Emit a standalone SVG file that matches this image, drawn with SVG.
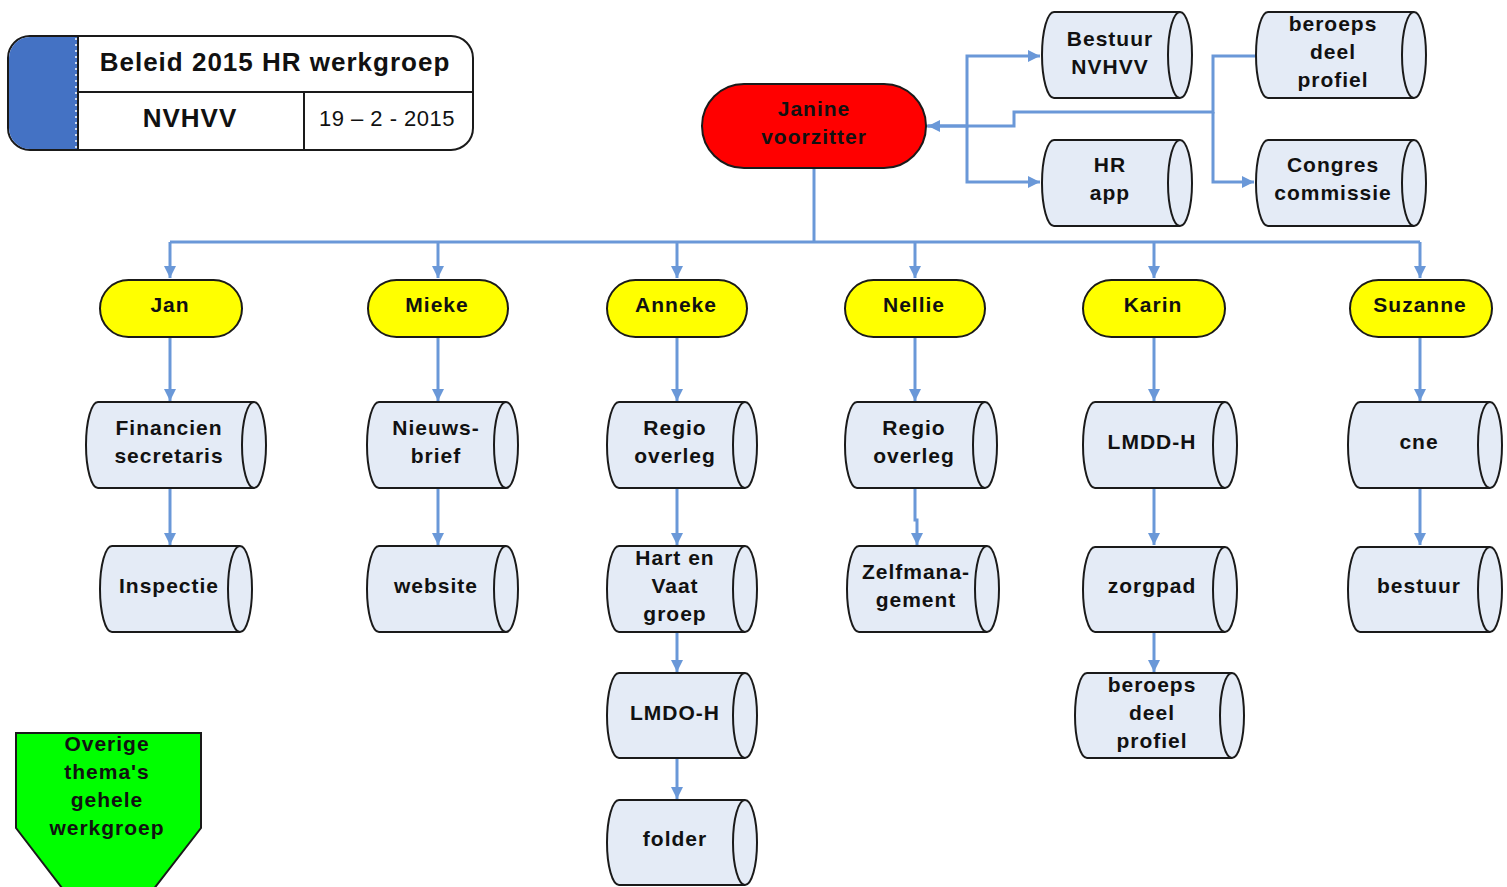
<svg xmlns="http://www.w3.org/2000/svg" width="1507" height="887" viewBox="0 0 1507 887">
<style>
.cyl{fill:#e4ebf6;stroke:#1a1a1a;stroke-width:2}
.pill{fill:#ffff00;stroke:#1a1a1a;stroke-width:2}
.t{font-family:"Liberation Sans",Arial,sans-serif;font-weight:bold;font-size:21px;letter-spacing:1px;fill:#111;text-anchor:middle}
.c{fill:none;stroke:#6a98d8;stroke-width:3}
.hdr{font-family:"Liberation Sans",Arial,sans-serif;font-size:26px;font-weight:bold;letter-spacing:1px;fill:#111;text-anchor:middle}
</style>
<defs>
<marker id="ah" markerUnits="userSpaceOnUse" markerWidth="12" markerHeight="12" viewBox="0 0 10 10" refX="10" refY="5" orient="auto">
<path d="M0,0 L10,5 L0,10 z" fill="#6a98d8"/>
</marker>
</defs>

<g id="header">
<rect x="8" y="36" width="465" height="114" rx="22" fill="#fff" stroke="#1a1a1a" stroke-width="2"/>
<path d="M77,37 H30 A21,21 0 0 0 9,58 V128 A21,21 0 0 0 30,149 H77 Z" fill="#4472c4"/>
<line x1="76" y1="38" x2="76" y2="148" stroke="#fff" stroke-width="1.5" stroke-dasharray="2,4"/>
<line x1="78" y1="36" x2="78" y2="150" stroke="#1a1a1a" stroke-width="2"/>
<line x1="78" y1="92" x2="473" y2="92" stroke="#1a1a1a" stroke-width="2"/>
<line x1="304" y1="92" x2="304" y2="150" stroke="#1a1a1a" stroke-width="2"/>
<text class="hdr" x="275" y="71">Beleid 2015 HR werkgroep</text>
<text class="hdr" x="190" y="127">NVHVV</text>
<text x="387" y="126" font-family="Liberation Sans,Arial,sans-serif" font-size="22" letter-spacing="0.5" fill="#111" text-anchor="middle">19 – 2 - 2015</text>
</g>

<g id="connectors">
<path class="c" d="M814,168 V242"/>
<path class="c" d="M170,242 H1420"/>
<path class="c" d="M170,242 V278" marker-end="url(#ah)"/>
<path class="c" d="M438,242 V278" marker-end="url(#ah)"/>
<path class="c" d="M677,242 V278" marker-end="url(#ah)"/>
<path class="c" d="M915,242 V278" marker-end="url(#ah)"/>
<path class="c" d="M1154,242 V278" marker-end="url(#ah)"/>
<path class="c" d="M1420,242 V278" marker-end="url(#ah)"/>
<path class="c" d="M170,337 V401" marker-end="url(#ah)"/>
<path class="c" d="M438,337 V401" marker-end="url(#ah)"/>
<path class="c" d="M677,337 V401" marker-end="url(#ah)"/>
<path class="c" d="M915,337 V401" marker-end="url(#ah)"/>
<path class="c" d="M1154,337 V401" marker-end="url(#ah)"/>
<path class="c" d="M1420,337 V401" marker-end="url(#ah)"/>
<path class="c" d="M170,488 V545" marker-end="url(#ah)"/>
<path class="c" d="M438,488 V545" marker-end="url(#ah)"/>
<path class="c" d="M677,488 V545" marker-end="url(#ah)"/>
<path class="c" d="M915,488 V520 H917 V545" marker-end="url(#ah)"/>
<path class="c" d="M1154,488 V545" marker-end="url(#ah)"/>
<path class="c" d="M1420,488 V545" marker-end="url(#ah)"/>
<path class="c" d="M677,632 V672" marker-end="url(#ah)"/>
<path class="c" d="M1154,632 V672" marker-end="url(#ah)"/>
<path class="c" d="M677,758 V799" marker-end="url(#ah)"/>
<path class="c" d="M926,126 H967 V56 H1040" marker-end="url(#ah)"/>
<path class="c" d="M967,126 V182 H1040" marker-end="url(#ah)"/>
<path class="c" d="M1256,56 H1213 V112 H1014 V126 H928" marker-end="url(#ah)"/>
<path class="c" d="M1213,112 V182 H1254" marker-end="url(#ah)"/>
</g>

<g id="janine">
<rect x="702" y="84" width="224" height="84" rx="42" fill="#ff0000" stroke="#1a1a1a" stroke-width="2"/>
<text class="t" x="814" y="116">Janine</text>
<text class="t" x="814" y="144">voorzitter</text>
</g>

<g id="jan"><rect class="pill" x="100" y="280" width="142" height="57" rx="28.5"/><text class="t" x="170" y="312">Jan</text></g>
<g id="mieke"><rect class="pill" x="368" y="280" width="140" height="57" rx="28.5"/><text class="t" x="437" y="312">Mieke</text></g>
<g id="anneke"><rect class="pill" x="607" y="280" width="140" height="57" rx="28.5"/><text class="t" x="676" y="312">Anneke</text></g>
<g id="nellie"><rect class="pill" x="845" y="280" width="140" height="57" rx="28.5"/><text class="t" x="914" y="312">Nellie</text></g>
<g id="karin"><rect class="pill" x="1083" y="280" width="142" height="57" rx="28.5"/><text class="t" x="1153" y="312">Karin</text></g>
<g id="suzanne"><rect class="pill" x="1350" y="280" width="142" height="57" rx="28.5"/><text class="t" x="1420" y="312">Suzanne</text></g>

<g id="bestuur-nvhvv">
<path class="cyl" d="M1054,12 H1180 A12,43 0 0 1 1180,98 H1054 A12,43 0 0 1 1054,12 Z"/>
<path class="cyl" d="M1180,12 A12,43 0 0 0 1180,98"/>
<text class="t" x="1110" y="46">Bestuur</text><text class="t" x="1110" y="74">NVHVV</text>
</g>
<g id="beroeps-top">
<path class="cyl" d="M1268,12 H1414 A12,43 0 0 1 1414,98 H1268 A12,43 0 0 1 1268,12 Z"/>
<path class="cyl" d="M1414,12 A12,43 0 0 0 1414,98"/>
<text class="t" x="1333" y="31">beroeps</text><text class="t" x="1333" y="59">deel</text><text class="t" x="1333" y="87">profiel</text>
</g>
<g id="hr-app">
<path class="cyl" d="M1054,140 H1180 A12,43 0 0 1 1180,226 H1054 A12,43 0 0 1 1054,140 Z"/>
<path class="cyl" d="M1180,140 A12,43 0 0 0 1180,226"/>
<text class="t" x="1110" y="172">HR</text><text class="t" x="1110" y="200">app</text>
</g>
<g id="congres">
<path class="cyl" d="M1268,140 H1414 A12,43 0 0 1 1414,226 H1268 A12,43 0 0 1 1268,140 Z"/>
<path class="cyl" d="M1414,140 A12,43 0 0 0 1414,226"/>
<text class="t" x="1333" y="172">Congres</text><text class="t" x="1333" y="200">commissie</text>
</g>

<g id="financien">
<path class="cyl" d="M98,402 H254 A12,43 0 0 1 254,488 H98 A12,43 0 0 1 98,402 Z"/>
<path class="cyl" d="M254,402 A12,43 0 0 0 254,488"/>
<text class="t" x="169" y="435">Financien</text><text class="t" x="169" y="463">secretaris</text>
</g>
<g id="inspectie">
<path class="cyl" d="M112,546 H240 A12,43 0 0 1 240,632 H112 A12,43 0 0 1 112,546 Z"/>
<path class="cyl" d="M240,546 A12,43 0 0 0 240,632"/>
<text class="t" x="169" y="593">Inspectie</text>
</g>
<g id="nieuwsbrief">
<path class="cyl" d="M379,402 H506 A12,43 0 0 1 506,488 H379 A12,43 0 0 1 379,402 Z"/>
<path class="cyl" d="M506,402 A12,43 0 0 0 506,488"/>
<text class="t" x="436" y="435">Nieuws-</text><text class="t" x="436" y="463">brief</text>
</g>
<g id="website">
<path class="cyl" d="M379,546 H506 A12,43 0 0 1 506,632 H379 A12,43 0 0 1 379,546 Z"/>
<path class="cyl" d="M506,546 A12,43 0 0 0 506,632"/>
<text class="t" x="436" y="593">website</text>
</g>
<g id="regio1">
<path class="cyl" d="M619,402 H745 A12,43 0 0 1 745,488 H619 A12,43 0 0 1 619,402 Z"/>
<path class="cyl" d="M745,402 A12,43 0 0 0 745,488"/>
<text class="t" x="675" y="435">Regio</text><text class="t" x="675" y="463">overleg</text>
</g>
<g id="hartvaat">
<path class="cyl" d="M619,546 H745 A12,43 0 0 1 745,632 H619 A12,43 0 0 1 619,546 Z"/>
<path class="cyl" d="M745,546 A12,43 0 0 0 745,632"/>
<text class="t" x="675" y="565">Hart en</text><text class="t" x="675" y="593">Vaat</text><text class="t" x="675" y="621">groep</text>
</g>
<g id="lmdo">
<path class="cyl" d="M619,673 H745 A12,42.5 0 0 1 745,758 H619 A12,42.5 0 0 1 619,673 Z"/>
<path class="cyl" d="M745,673 A12,42.5 0 0 0 745,758"/>
<text class="t" x="675" y="720">LMDO-H</text>
</g>
<g id="folder">
<path class="cyl" d="M619,800 H745 A12,42.5 0 0 1 745,885 H619 A12,42.5 0 0 1 619,800 Z"/>
<path class="cyl" d="M745,800 A12,42.5 0 0 0 745,885"/>
<text class="t" x="675" y="846">folder</text>
</g>
<g id="regio2">
<path class="cyl" d="M857,402 H985 A12,43 0 0 1 985,488 H857 A12,43 0 0 1 857,402 Z"/>
<path class="cyl" d="M985,402 A12,43 0 0 0 985,488"/>
<text class="t" x="914" y="435">Regio</text><text class="t" x="914" y="463">overleg</text>
</g>
<g id="zelfmanagement">
<path class="cyl" d="M859,546 H987 A12,43 0 0 1 987,632 H859 A12,43 0 0 1 859,546 Z"/>
<path class="cyl" d="M987,546 A12,43 0 0 0 987,632"/>
<text class="t" x="916" y="579">Zelfmana-</text><text class="t" x="916" y="607">gement</text>
</g>
<g id="lmdd">
<path class="cyl" d="M1095,402 H1225 A12,43 0 0 1 1225,488 H1095 A12,43 0 0 1 1095,402 Z"/>
<path class="cyl" d="M1225,402 A12,43 0 0 0 1225,488"/>
<text class="t" x="1152" y="449">LMDD-H</text>
</g>
<g id="zorgpad">
<path class="cyl" d="M1095,547 H1225 A12,42.5 0 0 1 1225,632 H1095 A12,42.5 0 0 1 1095,547 Z"/>
<path class="cyl" d="M1225,547 A12,42.5 0 0 0 1225,632"/>
<text class="t" x="1152" y="593">zorgpad</text>
</g>
<g id="beroeps-bottom">
<path class="cyl" d="M1087,673 H1232 A12,42.5 0 0 1 1232,758 H1087 A12,42.5 0 0 1 1087,673 Z"/>
<path class="cyl" d="M1232,673 A12,42.5 0 0 0 1232,758"/>
<text class="t" x="1152" y="692">beroeps</text><text class="t" x="1152" y="720">deel</text><text class="t" x="1152" y="748">profiel</text>
</g>
<g id="cne">
<path class="cyl" d="M1360,402 H1490 A12,43 0 0 1 1490,488 H1360 A12,43 0 0 1 1360,402 Z"/>
<path class="cyl" d="M1490,402 A12,43 0 0 0 1490,488"/>
<text class="t" x="1419" y="449">cne</text>
</g>
<g id="bestuur">
<path class="cyl" d="M1360,547 H1490 A12,42.5 0 0 1 1490,632 H1360 A12,42.5 0 0 1 1360,547 Z"/>
<path class="cyl" d="M1490,547 A12,42.5 0 0 0 1490,632"/>
<text class="t" x="1419" y="593">bestuur</text>
</g>

<g id="overige">
<path d="M16,733 H201 V828 L108,948 L16,828 Z" fill="#00ff00" stroke="#1a1a1a" stroke-width="2"/>
<text class="t" x="107" y="751">Overige</text><text class="t" x="107" y="779">thema's</text><text class="t" x="107" y="807">gehele</text><text class="t" x="107" y="835">werkgroep</text>
</g>
</svg>
